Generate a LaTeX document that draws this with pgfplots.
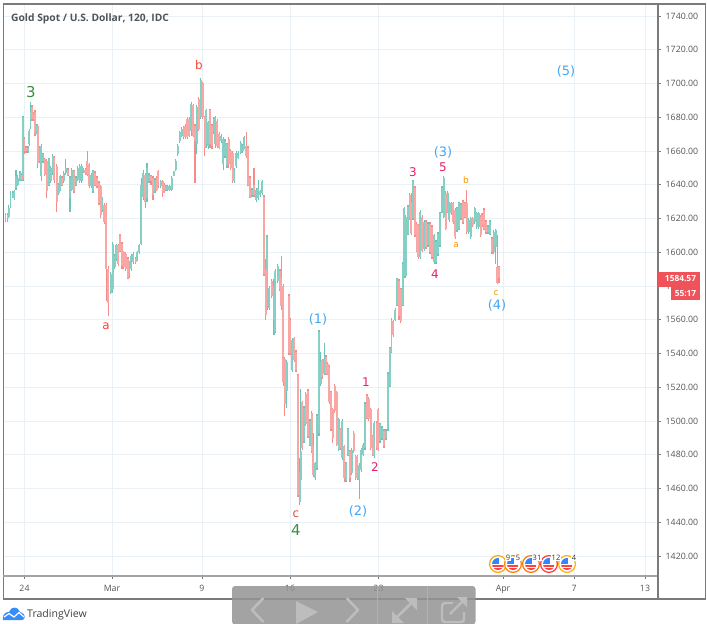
\documentclass[border=0pt]{standalone}
\usepackage{pgfplots}
\usepackage{pgfplotstable}
\usepackage{fontspec}
\pgfplotsset{compat=1.18}
\setmainfont{Open Sans}
\newfontfamily\lab{DejaVu Sans}
\definecolor{gridc}{HTML}{E9F0F6}
\definecolor{frm}{HTML}{7B7B7B}
\definecolor{upb}{HTML}{86CFC4}
\definecolor{upw}{HTML}{6CC4B7}
\definecolor{dnb}{HTML}{F9A6A4}
\definecolor{dnw}{HTML}{F58C8A}
\definecolor{wblue}{HTML}{42A5F5}
\definecolor{wcrim}{HTML}{E91E63}
\definecolor{wred}{HTML}{F44336}
\definecolor{wgreen}{HTML}{388E3C}
\definecolor{worange}{HTML}{FF9800}
\definecolor{txt}{HTML}{4F5458}
\definecolor{tag}{HTML}{F0525A}
\definecolor{ovl}{HTML}{949494}
\definecolor{ico}{HTML}{BDBDBD}
\pgfplotstableread{
x l h o c
5.5 1618 1623 1619 1622
7.5 1618 1623 1622 1620
8.8 1620 1628 1621 1626
10.5 1626 1636 1627 1634
12.5 1632 1636 1633 1635
14.2 1631 1637 1632 1636
16 1637 1649 1638 1645
17.7 1639 1646 1640 1644
20 1642 1648 1643 1647
21.7 1642 1647 1646 1643
23 1642 1681 1644 1680
24.5 1658 1668 1667 1660
26 1659 1663 1662 1660
28 1659 1663 1660 1662
29.3 1663 1673 1664 1672
30.5 1673 1689 1674 1683
32 1678 1687 1686 1679
33.3 1678 1683 1682 1679
35 1669 1684 1683 1670
36.3 1670 1676 1671 1675
37.7 1650 1676 1675 1653
39.3 1653 1663 1654 1662
41.3 1642 1664 1645 1663
43 1653 1659 1654 1658
44.7 1645 1656 1655 1646
46.7 1632 1655 1654 1636
49 1639 1656 1640 1655
50.7 1641 1651 1642 1650
52.7 1646 1658 1647 1657
54.3 1641 1657 1656 1643
56.7 1624 1652 1651 1630
58.7 1634 1641 1635 1640
60.3 1636 1646 1637 1645
62 1639 1645 1644 1640
63.7 1641 1648 1642 1647
65.7 1646 1655 1647 1650
68 1645 1650 1649 1646
70 1624 1645 1632 1644
71.7 1636 1650 1637 1649
74 1635 1649 1648 1636
76 1639 1645 1640 1644
77.7 1642 1651 1643 1650
79.7 1641 1652 1642 1651
81.7 1641 1652 1642 1651
83.3 1647 1650 1648 1650
85.3 1646 1650 1649 1647
87.3 1645 1660 1654 1646
89.3 1638 1653 1652 1639
91.3 1638 1647 1639 1646
93 1635 1649 1636 1648
95 1639 1648 1647 1640
97 1638 1645 1644 1639
99 1628 1642 1641 1629
100.7 1620 1640 1639 1622
102.3 1624 1633 1625 1632
104.3 1617 1629 1628 1618
106.3 1571 1629 1628 1590
108.3 1562 1592 1590 1570
110.7 1575 1588 1576 1587
112.7 1576 1606 1578 1605
114.7 1590 1599 1591 1598
116.3 1595 1605 1596 1604
118.3 1592 1605 1604 1593
120 1600 1611 1610 1601
122 1590 1606 1605 1592
123.7 1590 1601 1600 1591
125.7 1589 1600 1599 1590
128 1584 1597 1596 1585
129.3 1585 1595 1586 1594
131.3 1589 1599 1590 1598
133.3 1593 1600 1594 1599
135.7 1593 1597 1596 1594
137.3 1595 1601 1596 1600
139.3 1599 1605 1600 1604
141.3 1604 1644 1605 1640
143.3 1631 1649 1633 1647
145.3 1626 1647 1646 1630
147 1630 1653 1632 1650
149 1641 1647 1642 1646
151 1640 1646 1645 1642
153 1631 1645 1644 1634
155 1635 1644 1636 1643
156.7 1636 1645 1644 1637
158.3 1638 1649 1648 1640
160.7 1638 1643 1639 1642
162.7 1633 1643 1642 1635
164.3 1635 1641 1640 1636
166 1636 1640 1637 1639
167.7 1636 1640 1637 1639
169.7 1636 1640 1637 1639
171.7 1636 1645 1637 1644
173.7 1645 1648 1645 1648
175.7 1648 1655 1649 1654
177.7 1657 1664 1658 1663
179.7 1665 1672 1666 1671
181.7 1668 1674 1669 1673
183.7 1667 1675 1674 1668
185.3 1667 1676 1675 1668
187.3 1667 1680 1679 1668
189.3 1668 1680 1679 1669
191.3 1669 1689 1672 1688
193.3 1668 1688 1687 1669
195 1641 1676 1675 1666
196.7 1658 1687 1664 1686
198.7 1672 1692 1691 1673
200.7 1679 1703 1680 1702
202.7 1679 1701 1700 1680
204.7 1657 1681 1680 1662
206.3 1662 1685 1664 1684
208.3 1661 1678 1663 1677
210 1662 1685 1684 1664
212 1661 1676 1675 1663
213.7 1670 1680 1671 1679
215.3 1662 1681 1664 1680
217.3 1662 1679 1678 1663
219.3 1661 1671 1670 1662
221.3 1665 1670 1666 1669
223.3 1649 1668 1652 1667
225 1656 1667 1657 1666
227 1650 1665 1651 1664
228.7 1650 1668 1667 1652
230.7 1649 1661 1660 1650
232.7 1641 1660 1659 1642
234.3 1641 1650 1642 1649
236.3 1650 1660 1651 1659
238.3 1655 1660 1656 1659
240.7 1658 1666 1659 1665
242.7 1659 1664 1660 1663
244.3 1661 1669 1662 1668
246.3 1656 1671 1663 1657
248 1639 1663 1662 1640
250 1632 1645 1644 1633
252 1633 1638 1634 1637
254 1633 1650 1640 1634
256.3 1630 1638 1631 1637
258.3 1631 1643 1632 1638
260.3 1633 1637 1634 1636
262.3 1634 1643 1635 1642
264 1586 1634 1633 1587
265.7 1560 1596 1590 1563
267 1566 1610 1568 1609
269.3 1566 1580 1567 1579
271.7 1573 1584 1583 1574
274 1551 1584 1560 1580
275.3 1552 1590 1553 1589
277.7 1582 1593 1583 1592
280 1577 1590 1589 1578
281.3 1566 1598 1585 1568
283.3 1521 1581 1580 1523
284.7 1503 1538 1537 1510
286.7 1508 1536 1518 1535
289 1539 1575 1574 1540
290.3 1539 1561 1560 1540
292.3 1529 1549 1530 1548
294.3 1535 1550 1549 1536
296 1529 1542 1541 1530
298 1455 1528 1527 1456
299.7 1450 1478 1452 1470
300.7 1463 1519 1465 1482
302.3 1483 1512 1511 1484
304 1487 1509 1488 1508
305.7 1497 1517 1516 1498
308 1490 1519 1518 1491
310 1485 1501 1486 1500
311.7 1481 1506 1505 1482
313.3 1467 1493 1485 1468
315.3 1465 1476 1466 1475
317 1471 1504 1472 1503
319 1491 1554 1493 1553
320.7 1521 1541 1522 1535
322.3 1525 1537 1536 1526
324.3 1527 1546 1528 1537
326 1527 1539 1538 1528
327.7 1527 1535 1534 1528
329.3 1510 1533 1532 1511
331 1494 1518 1517 1495
332.7 1487 1508 1507 1490
334.7 1505 1522 1521 1506
336.7 1485 1518 1517 1486
338.7 1482 1502 1483 1501
340.3 1483 1496 1495 1484
342.3 1477 1501 1478 1500
344.3 1464 1486 1485 1466
346 1464 1476 1465 1475
348 1479 1496 1480 1495
350 1464 1483 1482 1466
351.7 1468 1484 1469 1483
353.7 1481 1494 1493 1482
355.7 1465 1480 1479 1466
357.3 1465 1480 1479 1466
359.3 1454 1475 1465 1474
361.3 1470 1484 1471 1483
363.3 1479 1487 1480 1486
365 1483 1511 1484 1510
367 1501 1516 1515 1502
368.7 1500 1514 1513 1501
370.7 1483 1508 1507 1484
372.7 1479 1492 1491 1480
374.3 1478 1500 1479 1499
376.7 1483 1500 1499 1484
378.3 1482 1508 1507 1483
380 1487 1499 1488 1498
382 1489 1497 1490 1496
384 1484 1495 1494 1485
386 1489 1495 1490 1494
388 1494 1529 1495 1528
390 1520 1544 1521 1543
391.5 1540 1561 1541 1560
393.3 1550 1560 1559 1551
395.3 1559 1567 1560 1566
397 1568 1585 1569 1584
399 1560 1584 1583 1562
400.7 1558 1579 1578 1559
402 1568 1579 1569 1578
403 1568 1594 1569 1593
404.3 1585 1627 1586 1626
405.7 1585 1622 1586 1621
408 1610 1628 1611 1627
409.7 1619 1635 1634 1620
411.3 1610 1635 1630 1611
413 1619 1643 1620 1642
415 1609 1639 1638 1610
416.7 1600 1618 1617 1601
418.3 1596 1617 1616 1597
420.3 1596 1625 1597 1624
422.3 1600 1622 1621 1601
424.3 1601 1619 1602 1618
426 1602 1619 1618 1603
428 1603 1618 1604 1617
430 1599 1618 1617 1600
432 1596 1616 1615 1597
434.3 1593 1611 1594 1610
436 1593 1607 1594 1606
438 1598 1612 1599 1611
440 1603 1624 1604 1623
442 1623 1639 1624 1638
443.7 1620 1645 1621 1644
445.7 1613 1636 1635 1614
447.7 1623 1636 1624 1635
449.3 1618 1630 1619 1629
451.3 1622 1630 1623 1629
453.3 1617 1630 1629 1618
455.3 1608 1626 1625 1609
457 1612 1627 1613 1626
459 1613 1630 1614 1629
461 1619 1629 1620 1628
463 1617 1631 1630 1618
465 1620 1630 1629 1621
466.7 1611 1637 1629 1612
468.7 1611 1620 1612 1619
470.7 1608 1621 1609 1620
472.7 1615 1621 1620 1616
474.7 1617 1627 1618 1626
476.7 1614 1624 1615 1623
478.7 1614 1624 1615 1623
480.7 1609 1622 1621 1610
482 1615 1623 1622 1616
484 1613 1626 1625 1614
486 1611 1619 1618 1612
488 1611 1616 1612 1615
490 1610 1619 1611 1618
492 1599 1609 1608 1600
493.7 1599 1613 1600 1612
495.7 1593 1614 1603 1613
497.3 1581 1610 1591 1582
499 1582 1592 1591 1584.57
}\bars
% turn the table into broken paths, one per colour and part of the candle
\def\upW{}\def\upB{}\def\dnW{}\def\dnB{}
\pgfplotstablegetrowsof{\bars}
\pgfmathtruncatemacro\nrows{\pgfplotsretval-1}
\pgfplotsforeachungrouped \rr in {0,...,\nrows}{%
  \pgfplotstablegetelem{\rr}{x}\of\bars\let\cX\pgfplotsretval
  \pgfplotstablegetelem{\rr}{l}\of\bars\let\cL\pgfplotsretval
  \pgfplotstablegetelem{\rr}{h}\of\bars\let\cH\pgfplotsretval
  \pgfplotstablegetelem{\rr}{o}\of\bars\let\cO\pgfplotsretval
  \pgfplotstablegetelem{\rr}{c}\of\bars\let\cC\pgfplotsretval
  \ifdim\cC pt<\cO pt
    \xdef\dnW{\dnW (\cX,\cL)(\cX,\cH)(\cX,nan)}%
    \xdef\dnB{\dnB (\cX,\cO)(\cX,\cC)(\cX,nan)}%
  \else
    \xdef\upW{\upW (\cX,\cL)(\cX,\cH)(\cX,nan)}%
    \xdef\upB{\upB (\cX,\cO)(\cX,\cC)(\cX,nan)}%
  \fi
}
\newcommand\seg[3]{\edef\tmpseg{\noexpand\addplot[draw=#1,line width=#2,no markers,forget plot] coordinates {#3};}\tmpseg}
\begin{document}
\begin{tikzpicture}
\useasboundingbox (0,0) rectangle (707bp,-624bp);
\begin{axis}[
  at={(3.5bp,-576bp)}, anchor=south west, scale only axis,
  width=654.5bp, height=572bp,
  xmin=3.5, xmax=658, ymin=1408.15, ymax=1747.1,
  xtick={24.5,112,202,290,378.5,503,574,645},
  xticklabels={24,Mar,9,16,23,Apr,7,13},
  ytick={1420,1440,...,1740},
  xtick pos=lower, ytick pos=right, yticklabel pos=right,
  tick align=outside, major tick length=3bp,
  tick style={frm, line width=0.7bp},
  grid=major, grid style={gridc, line width=0.9bp},
  axis line style={frm, line width=1.2bp},
  x axis line style={draw=none},
  unbounded coords=jump,
  tick label style={font=\fontsize{8.8}{10}\selectfont, text=txt},
  xticklabel style={yshift=-2.8bp},
  yticklabel style={xshift=1.2bp, /pgf/number format/fixed, /pgf/number format/fixed zerofill, /pgf/number format/precision=2, /pgf/number format/1000 sep={}, /pgf/number format/assume math mode=true},
]
\seg{upw}{1.2bp}{\upW}
\seg{dnw}{1.2bp}{\dnW}
\seg{upb}{1.8bp}{\upB}
\seg{dnb}{1.8bp}{\dnB}
\end{axis}
\begin{scope}[x=1bp,y=-1bp]
% frame
\draw[frm, line width=1.3bp] (3.5,4) -- (705.5,4) -- (705.5,599) -- (3.5,599) -- cycle;
\draw[frm!70, line width=1.5bp] (3.5,576) -- (658,576);
\draw[frm, line width=1.1bp] (658,4) -- (658,599);
% title
\node[anchor=west, txt, inner sep=0] at (11,18.5) {\fontsize{10.3}{12}\selectfont\bfseries Gold Spot / U.S. Dollar, 120, IDC};
% wave labels
\newcommand\wl[5]{\node[inner sep=0, text=#4] at (#1,#2) {\lab\fontsize{#3}{#3}\selectfont #5};}
\wl{31}{92}{15}{wgreen}{3}
\wl{296}{530}{15}{wgreen}{4}
\wl{106}{326}{12}{wred}{a}
\wl{199}{65}{12}{wred}{b}
\wl{296}{514}{12}{wred}{c}
\wl{318}{319}{13}{wblue}{(1)}
\wl{358}{511}{13}{wblue}{(2)}
\wl{443}{152}{13}{wblue}{(3)}
\wl{497}{305}{13}{wblue}{(4)}
\wl{566}{71}{13}{wblue}{(5)}
\wl{366}{382}{12}{wcrim}{1}
\wl{375}{467}{12}{wcrim}{2}
\wl{413}{172}{12}{wcrim}{3}
\wl{435}{274}{12}{wcrim}{4}
\wl{443}{167}{12}{wcrim}{5}
\wl{456}{245}{9}{worange}{a}
\wl{466}{180}{9}{worange}{b}
\wl{496}{293}{9}{worange}{c}
% price tags
\fill[tag] (658,272) rectangle (700,286.5);
\fill[tag] (671,287) rectangle (700,300);
\node[white, inner sep=0] at (680.5,278.8) {\fontsize{8.4}{8.4}\selectfont\bfseries 1584.57};
\node[white, inner sep=0] at (685.5,294) {\fontsize{8.4}{8.4}\selectfont\bfseries 55:17};
% event flags
\newcommand\flagm[2]{%
  \fill[white] (#1,564) circle (8.6);
  \begin{scope}
    \clip (#1,564) circle (6);
    \fill[white] (#1-6,558) rectangle (#1+6,570);
    \fill[blue!60!cyan!80] (#1-6,558) rectangle (#1+1,564);
    \fill[red!75] (#1-6,564.6) rectangle (#1+6,566.6);
    \fill[red!75] (#1-6,568) rectangle (#1+6,570);
  \end{scope}
  \draw[#2, line width=1.2bp] (#1,564) circle (8.4);}
\flagm{498}{orange!70!yellow}
\flagm{513}{orange}
\flagm{531}{orange!90!red}
\flagm{549}{red!70!pink}
\flagm{567}{orange!60!yellow}
\foreach \xx/\ttx in {508/9,518/5,537/31,556/12,574/4}
  \node[fill=white, inner sep=0.5pt, text=black!80] at (\xx,558) {\fontsize{7.5}{8}\selectfont \ttx};
% TradingView logo
\fill[wblue!85!blue] (3,620) .. controls (2,613) and (7,612) .. (9,612) .. controls (11,606) and (18,606) .. (20,612) .. controls (26,613) and (26,620) .. (22,620) -- cycle;
\draw[white, line width=1.2bp] (4,617) -- (9,613.5) -- (14,617) -- (19,612.5) -- (24,617);
\node[anchor=west, inner sep=0, text=black!75] at (27,615) {\fontsize{10.6}{12}\selectfont TradingView};
% overlay
\fill[ovl, fill opacity=0.86, rounded corners=3bp] (232,624.5) -- (232,586) -- (475.5,586) -- (475.5,624.5) -- cycle;
\draw[ico!70!ovl, line width=0.7bp] (377,586) -- (377,624) (427,586) -- (427,624);
\draw[ico, line width=2.6bp, line cap=round, line join=round] (263,598.5) -- (252,610) -- (263,621.5);
\fill[ico] (296,601) -- (318,612) -- (296,624) -- cycle;
\draw[ico, line width=2.6bp, line cap=round, line join=round] (347,598.5) -- (358,610) -- (347,621.5);
\draw[ico, line width=2.6bp] (394,620) -- (414.5,600);
\fill[ico] (392,623) -- (392,611) -- (404,623) -- cycle;
\fill[ico] (417,598) -- (405,598) -- (417,610) -- cycle;
\draw[ico, line width=2.4bp, rounded corners=3bp] (453,603) -- (442,603) -- (442,622) -- (464,622) -- (464,612);
\draw[ico, line width=2.4bp] (450,614) -- (463,601);
\fill[ico] (467,597) -- (457,597) -- (467,607) -- cycle;
\end{scope}
\end{tikzpicture}
\end{document}
